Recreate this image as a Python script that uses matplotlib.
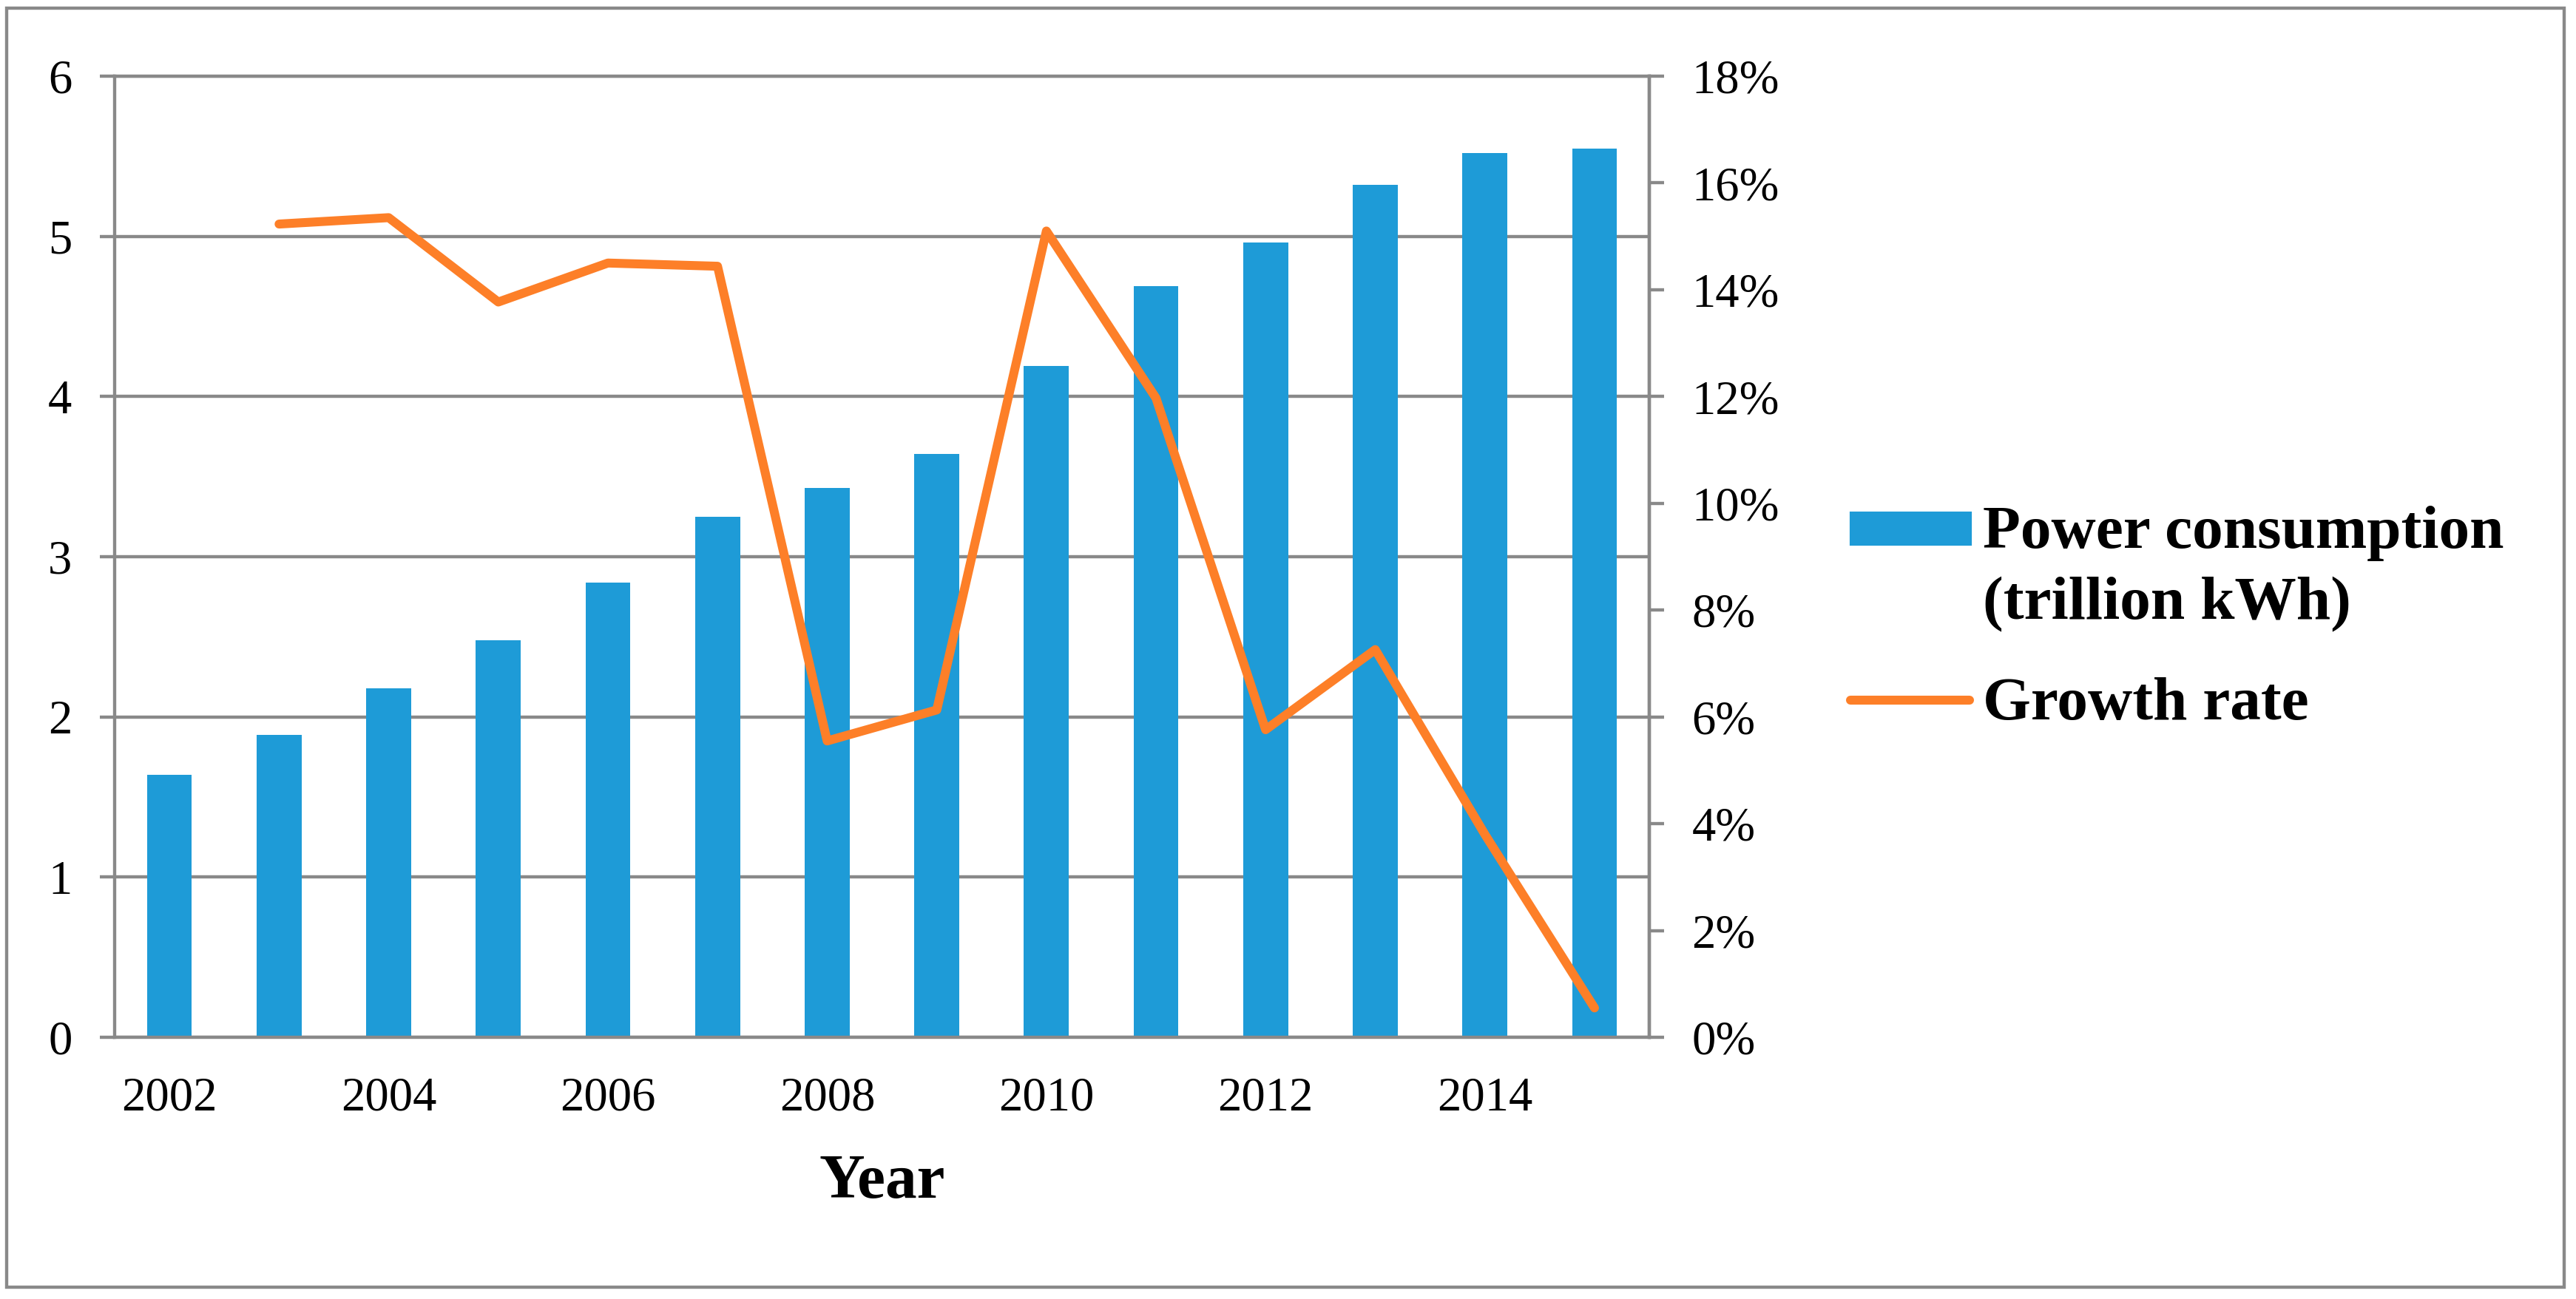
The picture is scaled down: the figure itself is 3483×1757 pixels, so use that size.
import matplotlib
matplotlib.use("Agg")
import matplotlib.pyplot as plt
import numpy as np
from matplotlib.patches import Rectangle
from matplotlib.lines import Line2D
from matplotlib.ticker import FuncFormatter

# data
years = [2002, 2003, 2004, 2005, 2006, 2007, 2008,
         2009, 2010, 2011, 2012, 2013, 2014, 2015]
consumption = [1.64, 1.89, 2.18, 2.48, 2.84, 3.25, 3.43,
               3.64, 4.19, 4.69, 4.96, 5.32, 5.52, 5.55]   # trillion kWh
growth_years = years[1:]
growth_pct = [15.23, 15.35, 13.77, 14.50, 14.44, 5.55,
              6.13, 15.10, 11.97, 5.76, 7.26, 3.80, 0.55]  # %
tick_years = years[::2]

BAR_COLOR = "#1E9BD7"
LINE_COLOR = "#FD7F28"
GRID = "#898989"
SERIF = "Liberation Serif"
LW = 1.05      # grid / spine width (pt)
LINE_W = 2.9   # growth-rate line width (pt)

plt.rcParams.update({
    "font.family": SERIF,
    "axes.linewidth": LW,
})

W, H = 3483, 1757
fig = plt.figure(figsize=(W / 300, H / 300), dpi=300)
ax = fig.add_axes([155 / W, 1 - 1403 / H, (2230 - 155) / W, 1300 / H])

x = np.arange(len(years))
ax.bar(x, consumption, width=0.41, color=BAR_COLOR, zorder=2)
ax.set_xlim(-0.5, len(years) - 0.5)
ax.set_ylim(0, 6)
ax.set_yticks(range(0, 7))
ax.yaxis.grid(True, color=GRID, linewidth=LW)
ax.set_axisbelow(True)

tick_pos = [years.index(y) for y in tick_years]
ax.set_xticks(tick_pos)
ax.set_xticklabels([str(y) for y in tick_years])
ax.tick_params(axis="x", length=0, pad=12.8, labelsize=15.5)
ax.tick_params(axis="y", direction="out", length=4.8, width=LW,
               color=GRID, pad=9, labelsize=15.5)
for sp in ax.spines.values():
    sp.set_color(GRID)
    sp.set_linewidth(LW)

ax.set_xlabel("Year", fontsize=20.5, fontweight="bold")
ax.xaxis.set_label_coords(0.5, (1403 - 1620) / 1300)
ax.xaxis.label.set_va("baseline")

# growth rate on secondary axis
ax2 = ax.twinx()
gx = [years.index(y) for y in growth_years]
ax2.plot(gx, growth_pct, color=LINE_COLOR, linewidth=LINE_W,
         solid_capstyle="round", zorder=3)
ax2.set_ylim(0, 18)
ax2.set_yticks(range(0, 19, 2))
ax2.yaxis.set_major_formatter(FuncFormatter(lambda v, p: f"{v:.0f}%"))
ax2.tick_params(axis="y", direction="out", length=4.8, width=LW,
                color=GRID, pad=9, labelsize=15.5)
for name, sp in ax2.spines.items():
    sp.set_visible(name == "right")
    sp.set_color(GRID)
    sp.set_linewidth(LW)

# legend (drawn by hand so the swatch sits on the first text line)
leg_font = dict(fontsize=20, fontweight="bold", ha="left", va="baseline")
fig.add_artist(Rectangle((2503 / W, 1 - 736 / H), 161 / W, 42 / H,
                         transform=fig.transFigure, color=BAR_COLOR))
fig.text(2681 / W, 1 - 741 / H, "Power consumption", **leg_font)
fig.text(2681 / W, 1 - 837 / H, "(trillion kWh)", **leg_font)
fig.add_artist(Line2D([2502 / W, 2663 / W], [1 - 947 / H, 1 - 947 / H],
                      transform=fig.transFigure, color=LINE_COLOR,
                      linewidth=LINE_W, solid_capstyle="round"))
fig.text(2681 / W, 1 - 973 / H, "Growth rate", **leg_font)

# outer chart-area border
fig.add_artist(Rectangle((9 / W, 1 - 1741 / H), (3467 - 9) / W, (1741 - 11) / H,
                         transform=fig.transFigure, fill=False,
                         edgecolor=GRID, linewidth=LW))

fig.savefig("out.png", dpi=300, facecolor="white")
